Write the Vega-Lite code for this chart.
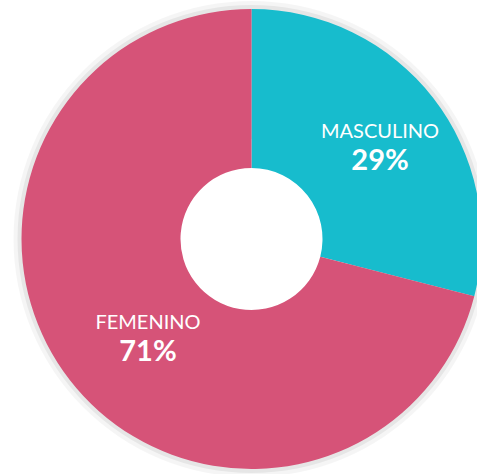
{
  "$schema": "https://vega.github.io/schema/vega-lite/v6.json",
  "width": 477,
  "height": 474,
  "autosize": {"type": "fit", "contains": "padding"},
  "padding": {"left": 26, "top": 4, "right": 0, "bottom": 0},
  "background": "white",
  "config": {"view": {"stroke": null}},
  "layer": [
    {
      "data": {"values": [{"anillo": "sombra", "v": 1}]},
      "mark": {"type": "arc", "outerRadius": 238, "innerRadius": 100, "color": "#000000", "opacity": 0.04},
      "encoding": {"theta": {"field": "v", "type": "quantitative", "stack": true}}
    },
    {
      "data": {"values": [{"anillo": "sombra", "v": 1}]},
      "mark": {"type": "arc", "outerRadius": 234, "innerRadius": 100, "color": "#000000", "opacity": 0.06},
      "encoding": {"theta": {"field": "v", "type": "quantitative", "stack": true}}
    },
    {
      "data": {"name": "genero"},
      "layer": [
        {
          "mark": {"type": "arc", "outerRadius": 230, "innerRadius": 71},
          "encoding": {
            "theta": {"field": "pct", "type": "quantitative", "stack": true},
            "order": {"field": "orden", "type": "quantitative"},
            "color": {
              "field": "genero", "type": "nominal",
              "scale": {"domain": ["MASCULINO", "FEMENINO"], "range": ["#17BCCD", "#D65378"]},
              "legend": null
            }
          }
        },
        {
          "mark": {"type": "text", "radius": 150, "dx": 10, "dy": -15, "font": "Lato", "fontSize": 20, "fontWeight": 400, "baseline": "middle", "color": "white"},
          "encoding": {
            "theta": {"field": "pct", "type": "quantitative", "stack": true},
            "order": {"field": "orden", "type": "quantitative"},
            "text": {"condition": {"test": "datum.genero === 'MASCULINO'", "field": "genero"}, "value": ""}
          }
        },
        {
          "mark": {"type": "text", "radius": 150, "dx": 10, "dy": 14, "font": "Lato", "fontSize": 29, "fontWeight": 700, "baseline": "middle", "color": "white"},
          "encoding": {
            "theta": {"field": "pct", "type": "quantitative", "stack": true},
            "order": {"field": "orden", "type": "quantitative"},
            "text": {"condition": {"test": "datum.genero === 'MASCULINO'", "field": "etiqueta"}, "value": ""}
          }
        },
        {
          "mark": {"type": "text", "radius": 150, "dx": 15, "dy": -8, "font": "Lato", "fontSize": 20, "fontWeight": 400, "baseline": "middle", "color": "white"},
          "encoding": {
            "theta": {"field": "pct", "type": "quantitative", "stack": true},
            "order": {"field": "orden", "type": "quantitative"},
            "text": {"condition": {"test": "datum.genero === 'FEMENINO'", "field": "genero"}, "value": ""}
          }
        },
        {
          "mark": {"type": "text", "radius": 150, "dx": 15, "dy": 21, "font": "Lato", "fontSize": 29, "fontWeight": 700, "baseline": "middle", "color": "white"},
          "encoding": {
            "theta": {"field": "pct", "type": "quantitative", "stack": true},
            "order": {"field": "orden", "type": "quantitative"},
            "text": {"condition": {"test": "datum.genero === 'FEMENINO'", "field": "etiqueta"}, "value": ""}
          }
        }
      ]
    }
  ],
  "resolve": {"scale": {"theta": "independent"}},
  "datasets": {
    "genero": [
      {"genero": "MASCULINO", "pct": 29, "orden": 1, "etiqueta": "29%"},
      {"genero": "FEMENINO", "pct": 71, "orden": 2, "etiqueta": "71%"}
    ]
  }
}
